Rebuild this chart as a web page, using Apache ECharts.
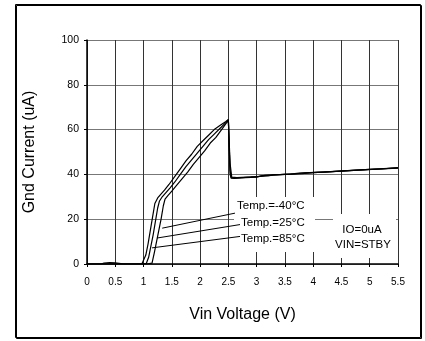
<!DOCTYPE html>
<html><head><meta charset="utf-8">
<script src="https://cdn.jsdelivr.net/npm/echarts@6/dist/echarts.min.js"></script>
<style>html,body{margin:0;padding:0;background:#fff}#c{width:425px;height:341px}</style>
</head><body><div id="c"></div>
<script>
// X tick labels
const xTicks = ['0','0.5','1','1.5','2','2.5','3','3.5','4','4.5','5','5.5'];
// Temp = 85°C (leftmost curve)
const v85 = [0,0.25,0.3,0.4,0.5,0.6,0.65,0.97,1.0,1.04,1.08,1.12,1.16,1.2,1.25,1.3,1.37,1.45,1.55,1.65,1.75,1.85,1.95,2.05,2.15,2.25,2.35,2.45,2.5,2.53,2.55,2.6,2.8,3.0,3.1,3.5,3.8,4.0,4.5,5.0,5.5];
const i85 = [0,0,0.4,0.6,0.5,0.2,0,0,0.5,4,9,15,21,27,29.5,31,33,35.5,39,42.5,46,49,52.5,55,57.5,60,61.8,63.5,64.5,40,38.3,38.2,38.5,38.8,39.5,40,40.3,40.8,41.5,42.2,42.9];
// Temp = 25°C
const v25 = [0,0.95,1.05,1.09,1.13,1.17,1.21,1.25,1.28,1.33,1.4,1.47,1.55,1.65,1.75,1.85,1.95,2.05,2.15,2.25,2.35,2.45,2.5,2.53,2.55,2.62,2.9,3.05,3.15,3.6,3.75,4.2,4.6,5.0,5.5];
const i25 = [0,0,0.3,3,8,13,19,25,28,30,32,34,36.5,40,43.5,46.5,49.5,52.5,55.5,58,60.5,63,64.3,42,38.6,38.4,38.8,39.1,39.6,40.1,40.6,41,41.7,42.2,42.8];
// Temp = -40°C (rightmost curve)
const vM40 = [0,1.05,1.15,1.19,1.23,1.27,1.31,1.35,1.38,1.43,1.5,1.58,1.68,1.78,1.88,1.98,2.08,2.18,2.28,2.38,2.46,2.5,2.53,2.56,2.65,3.0,3.2,3.3,3.7,3.85,4.3,4.8,5.2,5.5];
const iM40 = [0,0,0.4,5,10,15,20,26,29,30.5,32.5,35,38,41,44.5,47.5,50.5,54,56.5,60,62.8,64,45,38.8,38.6,39,39.3,39.8,40.3,40.7,41.2,41.9,42.4,43];
// Leader lines (label end -> curve end), data coordinates
const leadM40 = [[2.617,22.7],[1.33,16]];
const lead25 = [[2.706,17.6],[1.24,11.6]];
const lead85 = [[2.706,12.3],[1.15,7.2]];

const zip = (a,b)=>a.map((x,k)=>[x,b[k]]);
const FONT = '"Liberation Sans", Arial, sans-serif';
const lineS = (d,w,z)=>({type:'line',data:d,symbol:'none',silent:true,z:z,
  lineStyle:{color:'#000',width:w},animation:false});

const chart = echarts.init(document.getElementById('c'),null,{renderer:'canvas'});
chart.setOption({
  animation:false,
  backgroundColor:'#fff',
  textStyle:{fontFamily:FONT},
  grid:{left:87,top:40,width:311,height:224,containLabel:false},
  xAxis:{type:'value',min:0,max:5.5,interval:0.5,
    name:'Vin Voltage (V)',nameLocation:'middle',nameGap:43,
    nameTextStyle:{fontSize:16,color:'#000',fontFamily:FONT},
    axisLine:{show:true,onZero:false,lineStyle:{color:'#000',width:1.5}},
    axisTick:{show:true,length:3,lineStyle:{color:'#000'}},
    axisLabel:{margin:13,fontSize:10,color:'#000',fontFamily:FONT,
      formatter:(v)=>xTicks[Math.round(v/0.5)]},
    splitLine:{show:true,lineStyle:{color:'#333',width:1}}},
  yAxis:{type:'value',min:0,max:100,interval:20,
    name:'Gnd Current (uA)',nameLocation:'middle',nameGap:49,
    nameTextStyle:{fontSize:16,color:'#000',fontFamily:FONT},
    axisLine:{show:true,lineStyle:{color:'#000',width:1.5}},
    axisTick:{show:true,length:3,lineStyle:{color:'#000'}},
    axisLabel:{margin:8,fontSize:10.5,color:'#000',fontFamily:FONT},
    splitLine:{show:true,lineStyle:{color:'#777',width:1}}},
  series:[
    lineS(zip(v85,i85),1.2,3),
    lineS(zip(v25,i25),1.2,3),
    lineS(zip(vM40,iM40),1.2,3),
    lineS(leadM40,1,4),
    lineS(lead25,1,4),
    lineS(lead85,1,4)
  ],
  graphic:[
    {type:'rect',z:100,silent:true,shape:{x:15.5,y:4.5,width:405,height:333},
      style:{fill:'none',stroke:'#000',lineWidth:1,shadowColor:'#000',shadowOffsetX:1,shadowOffsetY:1,shadowBlur:0}},
    {type:'rect',z:1,silent:true,shape:{x:234,y:197,width:81,height:55},style:{fill:'#fff'}},
    {type:'rect',z:1,silent:true,shape:{x:333,y:214,width:63,height:44},style:{fill:'#fff'}},
    {type:'text',z:5,silent:true,style:{text:'Temp.=-40°C',x:237,y:206,verticalAlign:'middle',font:'11.5px '+FONT,fill:'#000'}},
    {type:'text',z:5,silent:true,style:{text:'Temp.=25°C',x:241,y:223,verticalAlign:'middle',font:'11.5px '+FONT,fill:'#000'}},
    {type:'text',z:5,silent:true,style:{text:'Temp.=85°C',x:241,y:239,verticalAlign:'middle',font:'11.5px '+FONT,fill:'#000'}},
    {type:'text',z:5,silent:true,style:{text:'IO=0uA',x:362,y:230,align:'center',verticalAlign:'middle',font:'11.5px '+FONT,fill:'#000'}},
    {type:'text',z:5,silent:true,style:{text:'VIN=STBY',x:363,y:245,align:'center',verticalAlign:'middle',font:'11.5px '+FONT,fill:'#000'}}
  ]
});
</script></body></html>
